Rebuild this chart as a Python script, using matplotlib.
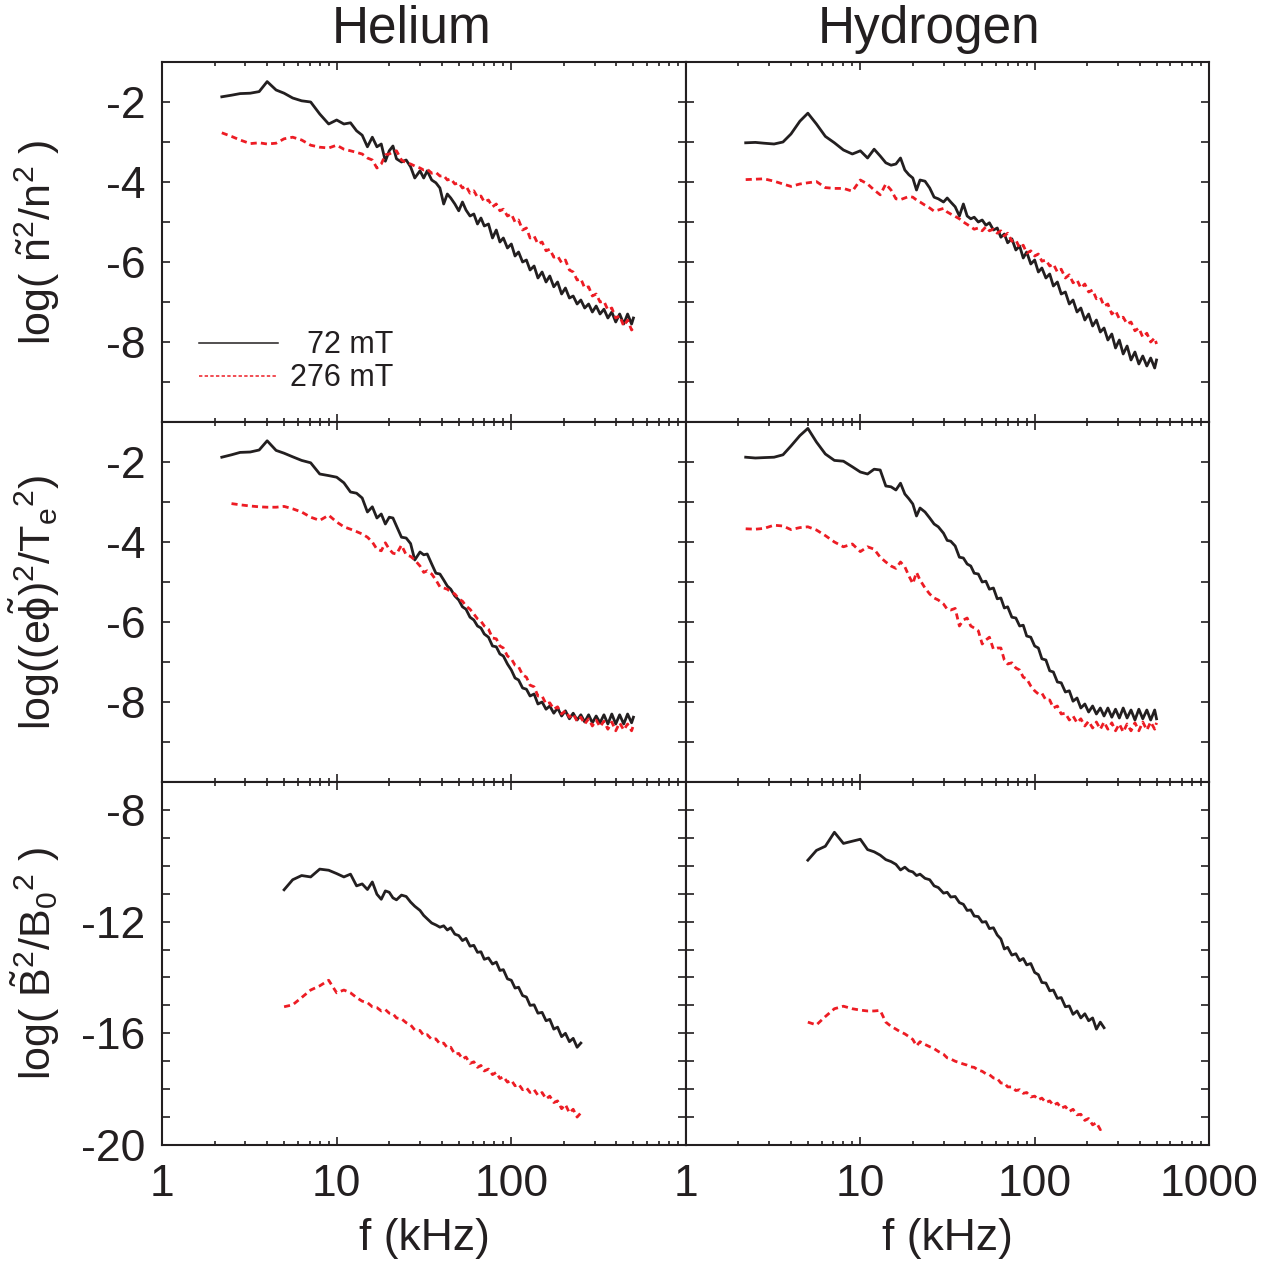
import numpy as np
import matplotlib
matplotlib.use('Agg')
import matplotlib.pyplot as plt
from matplotlib.ticker import FixedLocator, FixedFormatter, MultipleLocator, LogLocator, NullFormatter

# frequency grids (kHz)
FREQ_A = [2.2, 2.5, 2.8, 3.2, 3.6, 4.0, 4.5, 5.0, 5.6, 6.3,
          7.1, 8.0, 9.0, 10, 11, 12, 13, 14, 15, 16,
          17, 18, 19, 20, 21, 22, 23.5, 25, 26.5, 28,
          30, 31.5, 33, 35, 37, 39, 41, 43, 45, 47.5,
          50, 52.5, 55, 58, 61, 64, 67, 70, 74, 78,
          82, 86, 90, 95, 100, 105, 110, 116, 122, 128,
          135, 142, 150, 158, 166, 175, 184, 194, 204, 215,
          226, 238, 250, 263, 277, 291, 306, 322, 339, 357,
          376, 396, 417, 440, 463, 488, 500]

FREQ_B = [5.0, 5.6, 6.3, 7.1, 8.0, 9.0, 10, 11, 12, 13,
          14, 15, 16, 17, 18, 19, 20, 21, 22, 23.5,
          25, 26.5, 28, 30, 31.5, 33, 35, 37, 39, 41,
          43, 45, 47.5, 50, 52.5, 55, 58, 61, 64, 67,
          70, 74, 78, 82, 86, 90, 95, 100, 105, 110,
          116, 122, 128, 135, 142, 150, 158, 166, 175, 184,
          194, 204, 215, 226, 238, 250]

# density fluctuation spectra, log(n~^2/n^2)
HE_DENS_72 = [-1.87, -1.83, -1.79, -1.78, -1.74, -1.49, -1.70, -1.78, -1.90, -1.97,
              -2.00, -2.30, -2.55, -2.45, -2.55, -2.52, -2.72, -2.83, -3.12, -2.88,
              -3.12, -3.05, -3.48, -3.22, -3.10, -3.42, -3.50, -3.45, -3.62, -3.90,
              -3.72, -3.90, -3.72, -3.95, -4.02, -4.15, -4.55, -4.30, -4.40, -4.55,
              -4.72, -4.50, -4.70, -4.85, -4.80, -5.05, -4.90, -5.10, -5.05, -5.40,
              -5.20, -5.50, -5.40, -5.65, -5.55, -5.85, -5.75, -6.00, -5.95, -6.20,
              -6.10, -6.40, -6.25, -6.50, -6.35, -6.62, -6.50, -6.80, -6.65, -6.90,
              -6.85, -7.05, -6.95, -7.15, -7.05, -7.25, -7.10, -7.30, -7.18, -7.40,
              -7.25, -7.50, -7.30, -7.55, -7.30, -7.55, -7.40]
HE_DENS_276 = [-2.77, -2.86, -2.95, -3.04, -3.02, -3.05, -3.03, -2.92, -2.88, -2.95,
               -3.08, -3.13, -3.15, -3.08, -3.18, -3.22, -3.26, -3.30, -3.40, -3.45,
               -3.65, -3.55, -3.32, -3.30, -3.25, -3.22, -3.45, -3.52, -3.55, -3.60,
               -3.65, -3.70, -3.68, -3.78, -3.76, -3.85, -3.84, -3.95, -3.92, -4.05,
               -4.02, -4.15, -4.10, -4.28, -4.22, -4.38, -4.35, -4.50, -4.45, -4.62,
               -4.55, -4.72, -4.68, -4.85, -4.80, -5.00, -4.95, -5.20, -5.15, -5.40,
               -5.35, -5.55, -5.50, -5.72, -5.68, -5.88, -5.85, -6.02, -5.95, -6.20,
               -6.25, -6.45, -6.42, -6.65, -6.62, -6.85, -6.80, -7.00, -6.98, -7.20,
               -7.15, -7.40, -7.35, -7.60, -7.45, -7.70, -7.65]
H_DENS_72 = [-3.02, -3.01, -3.03, -3.05, -3.00, -2.80, -2.48, -2.28, -2.55, -2.86,
             -3.02, -3.20, -3.30, -3.22, -3.40, -3.18, -3.35, -3.52, -3.58, -3.55,
             -3.40, -3.70, -3.82, -3.90, -4.20, -3.95, -3.98, -4.15, -4.38, -4.42,
             -4.50, -4.40, -4.50, -4.62, -4.85, -4.55, -4.85, -4.92, -4.88, -5.00,
             -4.95, -5.08, -5.02, -5.20, -5.15, -5.38, -5.30, -5.52, -5.42, -5.70,
             -5.60, -5.90, -5.75, -6.05, -5.95, -6.25, -6.15, -6.40, -6.30, -6.60,
             -6.50, -6.80, -6.75, -7.05, -6.95, -7.25, -7.15, -7.45, -7.30, -7.60,
             -7.45, -7.75, -7.65, -7.95, -7.80, -8.15, -7.95, -8.30, -8.10, -8.45,
             -8.25, -8.55, -8.35, -8.60, -8.40, -8.65, -8.45]
H_DENS_276 = [-3.94, -3.93, -3.92, -3.98, -4.05, -4.11, -4.05, -4.02, -3.99, -4.14,
              -4.16, -4.16, -4.23, -3.95, -4.05, -4.20, -4.32, -4.05, -4.20, -4.42,
              -4.44, -4.40, -4.36, -4.38, -4.45, -4.50, -4.58, -4.65, -4.73, -4.70,
              -4.66, -4.75, -4.80, -4.86, -4.92, -5.00, -5.06, -5.12, -5.18, -5.15,
              -5.22, -5.12, -5.22, -5.18, -5.28, -5.22, -5.35, -5.28, -5.48, -5.45,
              -5.65, -5.58, -5.78, -5.72, -5.85, -5.80, -5.98, -5.95, -6.10, -6.05,
              -6.25, -6.18, -6.40, -6.32, -6.52, -6.45, -6.65, -6.55, -6.75, -6.70,
              -6.92, -6.88, -7.10, -7.05, -7.30, -7.22, -7.42, -7.38, -7.55, -7.50,
              -7.72, -7.65, -7.88, -7.78, -8.00, -7.90, -8.05]

# potential fluctuation spectra, log((e phi~)^2/Te^2)
HE_POT_72 = [-1.88, -1.82, -1.76, -1.75, -1.70, -1.47, -1.71, -1.78, -1.87, -1.96,
             -2.02, -2.30, -2.34, -2.38, -2.52, -2.75, -2.78, -2.90, -3.25, -3.12,
             -3.40, -3.30, -3.55, -3.38, -3.40, -3.60, -3.88, -3.90, -4.04, -4.45,
             -4.25, -4.32, -4.30, -4.55, -4.78, -4.80, -4.95, -5.10, -5.18, -5.35,
             -5.45, -5.62, -5.68, -5.88, -5.95, -6.10, -6.15, -6.30, -6.38, -6.60,
             -6.62, -6.80, -6.85, -7.05, -7.20, -7.40, -7.45, -7.65, -7.68, -7.85,
             -7.80, -8.05, -8.00, -8.18, -8.10, -8.28, -8.15, -8.35, -8.22, -8.42,
             -8.28, -8.45, -8.32, -8.50, -8.32, -8.52, -8.35, -8.52, -8.32, -8.55,
             -8.30, -8.55, -8.32, -8.55, -8.30, -8.52, -8.38]
HE_POT_276 = [np.nan, -3.04, -3.07, -3.10, -3.12, -3.13, -3.13, -3.11, -3.17, -3.25,
              -3.38, -3.46, -3.33, -3.50, -3.62, -3.68, -3.74, -3.80, -3.88, -4.00,
              -4.18, -4.22, -4.02, -4.18, -4.28, -4.30, -4.08, -4.32, -4.36, -4.45,
              -4.60, -4.76, -4.72, -4.80, -4.95, -5.12, -5.15, -5.18, -5.25, -5.30,
              -5.42, -5.48, -5.60, -5.68, -5.80, -5.92, -5.98, -6.10, -6.18, -6.40,
              -6.42, -6.60, -6.65, -6.85, -6.92, -7.08, -7.12, -7.32, -7.38, -7.58,
              -7.62, -7.85, -7.85, -8.05, -8.02, -8.18, -8.12, -8.30, -8.22, -8.38,
              -8.30, -8.48, -8.38, -8.55, -8.42, -8.60, -8.45, -8.62, -8.48, -8.68,
              -8.50, -8.72, -8.52, -8.70, -8.55, -8.72, -8.58]
H_POT_72 = [-1.88, -1.90, -1.89, -1.88, -1.82, -1.60, -1.34, -1.16, -1.50, -1.80,
            -1.96, -1.98, -2.12, -2.25, -2.30, -2.18, -2.20, -2.60, -2.62, -2.70,
            -2.53, -2.80, -2.92, -3.05, -3.35, -3.15, -3.25, -3.40, -3.55, -3.62,
            -3.78, -3.96, -3.98, -4.10, -4.38, -4.40, -4.55, -4.60, -4.78, -4.80,
            -5.00, -4.98, -5.18, -5.15, -5.42, -5.40, -5.65, -5.62, -5.88, -5.90,
            -6.10, -6.08, -6.35, -6.38, -6.60, -6.65, -6.92, -6.95, -7.22, -7.25,
            -7.50, -7.52, -7.75, -7.72, -7.98, -7.90, -8.15, -8.05, -8.25, -8.10,
            -8.30, -8.15, -8.35, -8.15, -8.38, -8.18, -8.40, -8.15, -8.40, -8.20,
            -8.45, -8.18, -8.42, -8.20, -8.45, -8.20, -8.42]
H_POT_276 = [-3.67, -3.68, -3.66, -3.58, -3.60, -3.69, -3.64, -3.62, -3.70, -3.84,
             -4.00, -4.12, -4.05, -4.24, -4.12, -4.18, -4.38, -4.50, -4.60, -4.66,
             -4.50, -4.62, -4.85, -5.04, -4.76, -4.95, -5.15, -5.30, -5.40, -5.45,
             -5.55, -5.68, -5.70, -5.66, -6.10, -5.95, -5.90, -6.10, -6.15, -6.22,
             -6.55, -6.45, -6.38, -6.68, -6.65, -6.65, -6.95, -7.05, -7.02, -7.15,
             -7.20, -7.38, -7.42, -7.60, -7.72, -7.80, -7.78, -7.95, -7.95, -8.15,
             -8.10, -8.30, -8.28, -8.45, -8.35, -8.52, -8.42, -8.60, -8.48, -8.65,
             -8.50, -8.68, -8.50, -8.68, -8.52, -8.72, -8.55, -8.75, -8.55, -8.72,
             -8.52, -8.72, -8.50, -8.70, -8.50, -8.68, -8.52]

# magnetic fluctuation spectra, log(B~^2/B0^2)
HE_MAG_72 = [-10.86, -10.50, -10.35, -10.40, -10.12, -10.16, -10.28, -10.40, -10.30, -10.72,
             -10.65, -10.85, -10.58, -11.02, -11.20, -10.90, -10.95, -11.15, -11.22, -11.05,
             -11.10, -11.30, -11.45, -11.60, -11.78, -11.90, -12.05, -12.12, -12.20, -12.15,
             -12.30, -12.22, -12.45, -12.50, -12.68, -12.60, -12.88, -12.85, -13.10, -13.08,
             -13.35, -13.30, -13.52, -13.45, -13.75, -13.72, -14.05, -14.10, -14.38, -14.35,
             -14.65, -14.70, -15.00, -14.98, -15.28, -15.25, -15.55, -15.50, -15.85, -15.78,
             -16.12, -16.00, -16.30, -16.18, -16.50, -16.35]
HE_MAG_276 = [-15.05, -14.98, -14.72, -14.45, -14.30, -14.10, -14.55, -14.45, -14.55, -14.72,
              -14.85, -14.90, -15.05, -15.08, -15.20, -15.15, -15.28, -15.30, -15.45, -15.48,
              -15.62, -15.70, -15.88, -15.90, -16.08, -16.05, -16.22, -16.20, -16.38, -16.35,
              -16.52, -16.50, -16.75, -16.72, -16.92, -16.85, -17.08, -17.02, -17.22, -17.15,
              -17.35, -17.28, -17.48, -17.40, -17.62, -17.55, -17.75, -17.68, -17.88, -17.82,
              -18.02, -17.95, -18.12, -18.02, -18.22, -18.12, -18.35, -18.25, -18.48, -18.42,
              -18.70, -18.55, -18.85, -18.72, -19.00, -18.85]
H_MAG_72 = [-9.80, -9.45, -9.30, -8.80, -9.20, -9.12, -9.05, -9.42, -9.50, -9.62,
            -9.78, -9.85, -9.95, -10.15, -10.05, -10.18, -10.22, -10.35, -10.30, -10.45,
            -10.50, -10.72, -10.78, -10.98, -10.95, -11.12, -11.10, -11.32, -11.38, -11.60,
            -11.58, -11.80, -11.82, -12.02, -12.00, -12.25, -12.22, -12.48, -12.62, -12.98,
            -12.92, -13.20, -13.15, -13.40, -13.32, -13.55, -13.50, -13.82, -13.90, -14.18,
            -14.20, -14.48, -14.45, -14.75, -14.72, -15.05, -15.02, -15.32, -15.20, -15.45,
            -15.30, -15.55, -15.45, -15.85, -15.60, -15.80]
H_MAG_276 = [-15.60, -15.70, -15.40, -15.12, -15.03, -15.12, -15.17, -15.20, -15.20, -15.18,
             -15.60, -15.75, -15.85, -15.95, -16.02, -16.12, -16.22, -16.45, -16.30, -16.40,
             -16.48, -16.55, -16.65, -16.75, -16.88, -16.92, -17.00, -17.05, -17.10, -17.14,
             -17.20, -17.22, -17.32, -17.36, -17.45, -17.48, -17.60, -17.62, -17.78, -17.78,
             -17.92, -17.92, -18.05, -18.02, -18.15, -18.12, -18.28, -18.25, -18.38, -18.32,
             -18.48, -18.42, -18.58, -18.50, -18.68, -18.62, -18.80, -18.72, -18.92, -18.90,
             -19.12, -19.05, -19.28, -19.20, -19.45, -19.35]

COLUMN_TITLES = ['Helium', 'Hydrogen']
LEGEND_LABELS = ['  72 mT', '276 mT']
YLABELS = [r'log( $\tilde{n}^{2}$/n$^{2}$ )',
           r'log($(e\tilde{\phi})^{2}$/T$_{e}$$^{2}$)',
           r'log( $\tilde{B}^{2}$/B$_{0}$$^{2}$ )']

BLACK = '#231f20'
RED = '#ed1c24'

plt.rcParams['font.family'] = 'Liberation Sans'
plt.rcParams['mathtext.fontset'] = 'custom'
plt.rcParams['mathtext.rm'] = 'Liberation Sans'
plt.rcParams['mathtext.it'] = 'Liberation Sans'
plt.rcParams['mathtext.default'] = 'regular'
plt.rcParams['axes.unicode_minus'] = False

# rows: (freq, helium 72, helium 276, hydrogen 72, hydrogen 276, ylim, major yticks)
rows = [
    (FREQ_A, HE_DENS_72, HE_DENS_276, H_DENS_72, H_DENS_276, (-10, -1), [-8, -6, -4, -2]),
    (FREQ_A, HE_POT_72, HE_POT_276, H_POT_72, H_POT_276, (-10, -1), [-8, -6, -4, -2]),
    (FREQ_B, HE_MAG_72, HE_MAG_276, H_MAG_72, H_MAG_276, (-20, -7), [-20, -16, -12, -8]),
]

col_x = [(0.12597, 0.40747), (0.53344, 0.40668)]
row_y = [(0.66587, 0.28504), (0.38084, 0.28503), (0.09343, 0.28741)]

fig = plt.figure(figsize=(12.86, 12.63), dpi=100)

for r, (freq, he72, he276, h72, h276, ylim, yticks) in enumerate(rows):
    for c in range(2):
        ax = fig.add_axes([col_x[c][0], row_y[r][0], col_x[c][1], row_y[r][1]])
        s72, s276 = (he72, he276) if c == 0 else (h72, h276)
        ax.plot(freq, s72, color=BLACK, lw=2.0, label=LEGEND_LABELS[0])
        ax.plot(freq, s276, color=RED, lw=2.0, linestyle=(0, (2.2, 1.5)), label=LEGEND_LABELS[1])

        ax.set_xscale('log')
        ax.set_xlim(1, 1000)
        ax.set_ylim(*ylim)

        # x ticks
        ax.xaxis.set_major_locator(FixedLocator([1, 10, 100, 1000]))
        if c == 0:
            ax.xaxis.set_major_formatter(FixedFormatter(['1', '10', '100', '']))
        else:
            ax.xaxis.set_major_formatter(FixedFormatter(['1', '10', '100', '1000']))
        ax.xaxis.set_minor_locator(LogLocator(base=10, subs=np.arange(2, 10), numticks=20))
        ax.xaxis.set_minor_formatter(NullFormatter())

        # y ticks
        ax.yaxis.set_major_locator(FixedLocator(yticks))
        ax.yaxis.set_minor_locator(MultipleLocator(1))

        ax.tick_params(which='both', direction='in', top=True, right=True,
                       colors=BLACK, width=1.2)
        ax.tick_params(axis='x', which='major', length=6, labelsize=32, pad=14)
        ax.tick_params(axis='x', which='minor', length=3)
        ax.tick_params(axis='y', which='both', length=6, labelsize=32, pad=12)
        if r < 2:
            ax.tick_params(axis='x', labelbottom=False)
        if c == 1:
            ax.tick_params(axis='y', labelleft=False)

        for sp in ax.spines.values():
            sp.set_linewidth(1.5)
            sp.set_color(BLACK)

        if c == 0:
            ax.set_ylabel(YLABELS[r], fontsize=31, color=BLACK)
            ax.yaxis.set_label_coords(-0.19, 0.5)
        if r == 2:
            ax.set_xlabel('f (kHz)', fontsize=32, color=BLACK)
            ax.xaxis.set_label_coords(0.5, -0.20)

        if r == 0 and c == 0:
            leg = ax.legend(loc='upper left', bbox_to_anchor=(0.07, 0.255), frameon=False,
                            fontsize=22, handlelength=2.6, handletextpad=0.4,
                            labelspacing=0.1, borderpad=0, borderaxespad=0)
            for t in leg.get_texts():
                t.set_color(BLACK)
            for ln in leg.get_lines():
                ln.set_linewidth(1.1)

# column titles
fig.text(0.3204, 0.966, COLUMN_TITLES[0], ha='center', va='baseline', fontsize=37, color=BLACK)
fig.text(0.7224, 0.966, COLUMN_TITLES[1], ha='center', va='baseline', fontsize=37, color=BLACK)

fig.savefig('out.png', dpi=100)
